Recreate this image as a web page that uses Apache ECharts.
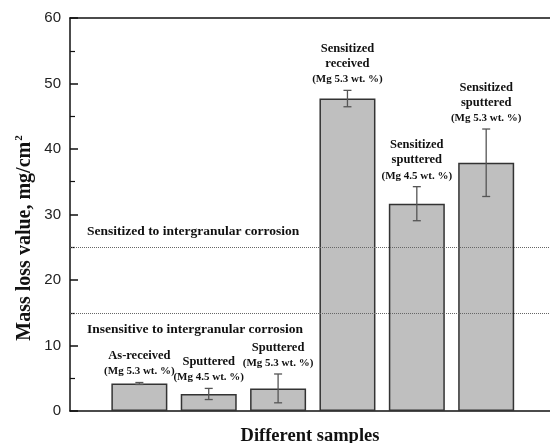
<!DOCTYPE html>
<html>
<head>
<meta charset="utf-8">
<script src="https://cdn.jsdelivr.net/npm/echarts@6/dist/echarts.min.js"></script>
<style>html,body{margin:0;padding:0;background:#fff}#c{width:550px;height:443px}</style>
</head>
<body>
<div id="c"></div>
<script>
const categories = ['As-received (Mg 5.3)', 'Sputtered (Mg 4.5)', 'Sputtered (Mg 5.3)', 'Sensitized received (Mg 5.3)', 'Sensitized sputtered (Mg 4.5)', 'Sensitized sputtered (Mg 5.3)'];
const massLoss = [4.2, 2.6, 3.45, 47.7, 31.65, 37.9];
const errors = [0.15, 0.85, 2.2, 1.25, 2.6, 5.15];
const labelTitles = ['As-received', 'Sputtered', 'Sputtered', 'Sensitized\nreceived', 'Sensitized\nsputtered', 'Sensitized\nsputtered'];
const labelSubs = ['(Mg 5.3 wt. %)', '(Mg 4.5 wt. %)', '(Mg 5.3 wt. %)', '(Mg 5.3 wt. %)', '(Mg 4.5 wt. %)', '(Mg 5.3 wt. %)'];
const thresholds = [15, 25];
const thresholdLabels = ['Insensitive to intergranular corrosion', 'Sensitized to intergranular corrosion'];
const yTicks = [0, 10, 20, 30, 40, 50, 60];

const serif = '"Liberation Serif", "Times New Roman", serif';
const sans = '"Liberation Sans", Arial, sans-serif';

const chart = echarts.init(document.getElementById('c'), null, {renderer: 'canvas'});

const barData = massLoss.map((v, i) => [i + 1, v]);
const errData = massLoss.map((v, i) => [i + 1, v - errors[i], v + errors[i], i]);

function renderErr(params, api) {
  const x = api.value(0);
  const lo = api.coord([x, api.value(1)]);
  const hi = api.coord([x, api.value(2)]);
  const idx = api.value(3);
  const cap = 4;
  const st = {stroke: '#555', lineWidth: 1.3};
  const titleLines = labelTitles[idx].split('\n').map(t => '{t|' + t + '}').join('\n');
  return {
    type: 'group',
    children: [
      {type: 'line', shape: {x1: hi[0], y1: hi[1], x2: lo[0], y2: lo[1]}, style: st},
      {type: 'line', shape: {x1: hi[0] - cap, y1: hi[1], x2: hi[0] + cap, y2: hi[1]}, style: st},
      {type: 'line', shape: {x1: lo[0] - cap, y1: lo[1], x2: lo[0] + cap, y2: lo[1]}, style: st},
      {type: 'text', x: hi[0], y: hi[1] - 3, style: {
        text: titleLines + '\n{s|' + labelSubs[idx] + '}',
        align: 'center', verticalAlign: 'bottom',
        rich: {
          t: {fontFamily: serif, fontWeight: 'bold', fontSize: 12.5, lineHeight: 15, fill: '#111', align: 'center'},
          s: {fontFamily: serif, fontWeight: 'bold', fontSize: 11, lineHeight: 16, fill: '#111', align: 'center'}
        }
      }}
    ]
  };
}

const xMax = 6.92;

const option = {
  backgroundColor: '#fff',
  animation: false,
  grid: {left: 70, top: 18, right: 0, bottom: 32, containLabel: false, outerBoundsMode: 'none'},
  xAxis: [{
    type: 'value', min: 0, max: xMax, position: 'bottom',
    axisLine: {show: true, onZero: false, lineStyle: {color: '#111', width: 1.5}},
    axisTick: {show: false}, axisLabel: {show: false}, splitLine: {show: false},
    name: 'Different samples', nameLocation: 'middle', nameGap: 16,
    nameTextStyle: {fontFamily: serif, fontWeight: 'bold', fontSize: 18.5, color: '#111'}
  }, {
    type: 'value', min: 0, max: xMax, position: 'top',
    axisLine: {show: true, onZero: false, lineStyle: {color: '#111', width: 1.5}},
    axisTick: {show: false}, axisLabel: {show: false}, splitLine: {show: false}
  }],
  yAxis: {
    type: 'value', min: yTicks[0], max: yTicks[yTicks.length - 1], interval: 10,
    axisLine: {show: true, lineStyle: {color: '#111', width: 1.5}},
    axisTick: {show: true, inside: true, length: 8, lineStyle: {color: '#111', width: 1.5}},
    minorTick: {show: true, splitNumber: 2, length: 5, lineStyle: {color: '#111', width: 1.2}},
    axisLabel: {fontFamily: sans, fontSize: 15, color: '#222', margin: 9},
    splitLine: {show: false}
  },
  graphic: [{
    type: 'text', x: 25, y: 238, rotation: Math.PI / 2,
    style: {
      text: '{m|Mass loss value, mg/cm}{p|2}',
      align: 'center', verticalAlign: 'middle',
      rich: {
        m: {fontFamily: serif, fontWeight: 'bold', fontSize: 20, fill: '#111', lineHeight: 22},
        p: {fontFamily: serif, fontWeight: 'bold', fontSize: 11, fill: '#111', lineHeight: 22, verticalAlign: 'top', padding: [0, 0, 12, 1]}
      }
    }
  }],
  series: [
    {
      type: 'bar', data: barData, barWidth: 56, xAxisIndex: 0,
      itemStyle: {color: '#bfbfbf', borderColor: '#333', borderWidth: 1.5},
      markLine: {
        silent: true, symbol: ['none', 'none'],
        lineStyle: {type: 'dotted', color: '#666', width: 1},
        data: [
          {yAxis: thresholds[0], label: {show: true, position: 'insideStartBottom', formatter: thresholdLabels[0], distance: 5, padding: [5, 0, 0, 12], fontFamily: serif, fontWeight: 'bold', fontSize: 13.5, color: '#111'}},
          {yAxis: thresholds[1], label: {show: true, position: 'insideStartTop', formatter: thresholdLabels[1], distance: 5, padding: [0, 0, 4, 12], fontFamily: serif, fontWeight: 'bold', fontSize: 13.5, color: '#111'}}
        ]
      }
    },
    {
      type: 'custom', data: errData, renderItem: renderErr, z: 5, xAxisIndex: 0,
      encode: {x: 0, y: [1, 2]}
    }
  ]
};
chart.setOption(option);
</script>
</body>
</html>
